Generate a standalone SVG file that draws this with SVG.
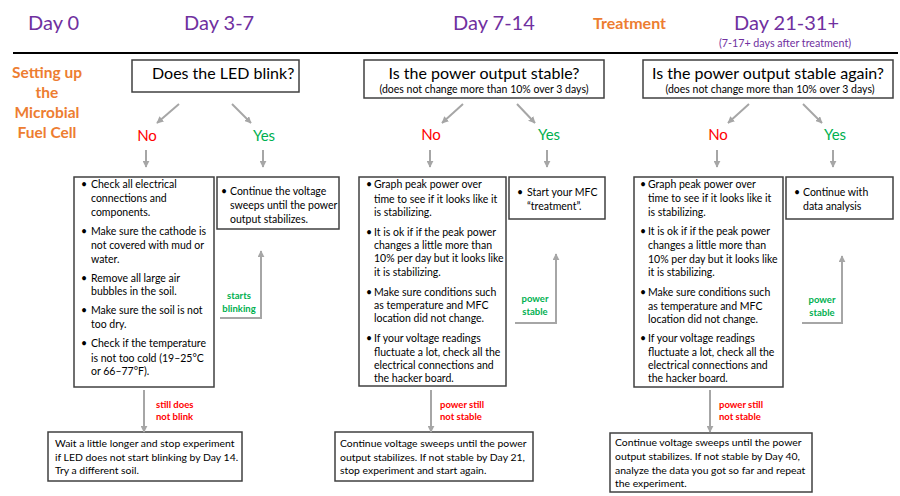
<svg xmlns="http://www.w3.org/2000/svg" width="900" height="496" viewBox="0 0 900 496">
<defs>
<marker id="ah" viewBox="0 0 10 10" markerWidth="7" markerHeight="7" markerUnits="userSpaceOnUse" refX="9" refY="5" orient="auto">
<path d="M0,0 L10,5 L0,10 Z" fill="#A6A6A6"/>
</marker>
</defs>
<style>
text{font-family:Lato,"Liberation Sans",sans-serif;}
.day{font-size:20px;fill:#7030A0;}
.sub{font-size:10.7px;fill:#7030A0;}
.org{font-weight:bold;fill:#ED7D31;}
.box{fill:#fff;stroke:#404040;stroke-width:1.5;}
.q{font-size:16px;fill:#000;}
.qs{font-size:10.5px;fill:#000;}
.b{font-size:10.5px;fill:#000;}
.w{font-size:10.4px;fill:#000;}
.no{font-size:15px;fill:#FF0000;}
.yes{font-size:15px;fill:#00B050;}
.lg{font-size:9.5px;font-weight:bold;fill:#00B050;}
.lr{font-size:9.5px;font-weight:bold;fill:#FF0000;}
.ca{fill:none;stroke:#A6A6A6;stroke-width:2;marker-end:url(#ah);}
</style>
<rect width="900" height="496" fill="#fff"/>

<g id="header">
<text class="day" x="28" y="30">Day 0</text>
<text class="day" x="184" y="30">Day 3-7</text>
<text class="day" x="453" y="30">Day 7-14</text>
<text class="org" x="593" y="29" font-size="16">Treatment</text>
<text class="day" x="734" y="30">Day 21-31+</text>
<text class="sub" x="719" y="47">(7-17+ days after treatment)</text>
<line x1="13" y1="53" x2="898" y2="53" stroke="#000" stroke-width="2"/>
</g>

<g id="setup">
<text class="org" font-size="15.5" text-anchor="middle" x="47" y="78">Setting up</text>
<text class="org" font-size="15.5" text-anchor="middle" x="47" y="98">the</text>
<text class="org" font-size="15.5" text-anchor="middle" x="47" y="118">Microbial</text>
<text class="org" font-size="15.5" text-anchor="middle" x="47" y="138">Fuel Cell</text>
</g>

<g id="q1">
<rect class="box" x="132" y="60" width="167" height="32"/>
<text class="q" font-size="15" x="152" y="79">Does the LED blink?</text>
</g>
<g id="q2">
<rect class="box" x="364" y="60" width="240" height="38"/>
<text class="q" x="484" y="79" text-anchor="middle">Is the power output stable?</text>
<text class="qs" x="484" y="93" text-anchor="middle">(does not change more than 10% over 3 days)</text>
</g>
<g id="q3">
<rect class="box" x="643" y="60" width="250" height="38"/>
<text class="q" x="768" y="79" text-anchor="middle">Is the power output stable again?</text>
<text class="qs" x="770" y="93" text-anchor="middle">(does not change more than 10% over 3 days)</text>
</g>

<g id="answers">
<text class="no" x="147" y="141" text-anchor="middle">No</text>
<text class="yes" x="264" y="141" text-anchor="middle">Yes</text>
<text class="no" x="431" y="140" text-anchor="middle">No</text>
<text class="yes" x="549" y="140" text-anchor="middle">Yes</text>
<text class="no" x="718" y="140" text-anchor="middle">No</text>
<text class="yes" x="835" y="140" text-anchor="middle">Yes</text>
</g>

<g id="no1">
<rect class="box" x="74" y="177" width="140" height="210"/>
<text class="b" x="81" y="188">•</text>
<text class="b" x="91" y="188">Check all electrical</text>
<text class="b" x="91" y="202">connections and</text>
<text class="b" x="91" y="216">components.</text>
<text class="b" x="81" y="235">•</text>
<text class="b" x="91" y="235">Make sure the cathode is</text>
<text class="b" x="91" y="249">not covered with mud or</text>
<text class="b" x="91" y="263">water.</text>
<text class="b" x="81" y="282">•</text>
<text class="b" x="91" y="282">Remove all large air</text>
<text class="b" x="91" y="295">bubbles in the soil.</text>
<text class="b" x="81" y="314">•</text>
<text class="b" x="91" y="314">Make sure the soil is not</text>
<text class="b" x="91" y="328">too dry.</text>
<text class="b" x="81" y="347">•</text>
<text class="b" x="91" y="347">Check if the temperature</text>
<text class="b" x="91" y="362">is not too cold (19–25°C</text>
<text class="b" x="91" y="375">or 66–77°F).</text>
</g>
<g id="yes1">
<rect class="box" x="217" y="177" width="122" height="52"/>
<text class="b" x="221" y="195">•</text>
<text class="b" x="230" y="195">Continue the voltage</text>
<text class="b" x="230" y="209">sweeps until the power</text>
<text class="b" x="230" y="223">output stabilizes.</text>
</g>

<g id="no2">
<rect class="box" x="359" y="177" width="147" height="209"/>
<text class="b" x="366" y="188">•</text>
<text class="b" x="374" y="188">Graph peak power over</text>
<text class="b" x="374" y="203">time to see if it looks like it</text>
<text class="b" x="374" y="216">is stabilizing.</text>
<text class="b" x="366" y="236">•</text>
<text class="b" x="374" y="236">It is ok if if the peak power</text>
<text class="b" x="374" y="249">changes a little more than</text>
<text class="b" x="374" y="262">10% per day but it looks like</text>
<text class="b" x="374" y="276">it is stabilizing.</text>
<text class="b" x="366" y="296">•</text>
<text class="b" x="374" y="296">Make sure conditions such</text>
<text class="b" x="374" y="309">as temperature and MFC</text>
<text class="b" x="374" y="322">location did not change.</text>
<text class="b" x="366" y="342">•</text>
<text class="b" x="374" y="342">If your voltage readings</text>
<text class="b" x="374" y="356">fluctuate a lot, check all the</text>
<text class="b" x="374" y="369">electrical connections and</text>
<text class="b" x="374" y="382">the hacker board.</text>
</g>
<g id="yes2">
<rect class="box" x="509" y="177" width="96" height="42"/>
<text class="b" x="517" y="196">•</text>
<text class="b" x="527" y="196">Start your MFC</text>
<text class="b" x="527" y="210">“treatment”.</text>
</g>

<g id="no3">
<rect class="box" x="634" y="177" width="149" height="210"/>
<text class="b" x="640" y="188">•</text>
<text class="b" x="648" y="188">Graph peak power over</text>
<text class="b" x="648" y="202">time to see if it looks like it</text>
<text class="b" x="648" y="216">is stabilizing.</text>
<text class="b" x="640" y="235">•</text>
<text class="b" x="648" y="235">It is ok if if the peak power</text>
<text class="b" x="648" y="249">changes a little more than</text>
<text class="b" x="648" y="263">10% per day but it looks like</text>
<text class="b" x="648" y="276">it is stabilizing.</text>
<text class="b" x="640" y="296">•</text>
<text class="b" x="648" y="296">Make sure conditions such</text>
<text class="b" x="648" y="310">as temperature and MFC</text>
<text class="b" x="648" y="323">location did not change.</text>
<text class="b" x="640" y="342">•</text>
<text class="b" x="648" y="342">If your voltage readings</text>
<text class="b" x="648" y="356">fluctuate a lot, check all the</text>
<text class="b" x="648" y="369">electrical connections and</text>
<text class="b" x="648" y="382">the hacker board.</text>
</g>
<g id="yes3">
<rect class="box" x="786" y="177" width="107" height="42"/>
<text class="b" x="794" y="196">•</text>
<text class="b" x="803" y="196">Continue with</text>
<text class="b" x="803" y="210">data analysis</text>
</g>

<g id="end1">
<rect class="box" x="48" y="432" width="194" height="49"/>
<text class="w" x="55" y="447">Wait a little longer and stop experiment</text>
<text class="w" x="55" y="461">if LED does not start blinking by Day 14.</text>
<text class="w" x="55" y="474">Try a different soil.</text>
</g>
<g id="end2">
<rect class="box" x="335" y="432" width="198" height="49"/>
<text class="w" x="340" y="447">Continue voltage sweeps until the power</text>
<text class="w" x="340" y="461">output stabilizes. If not stable by Day 21,</text>
<text class="w" x="340" y="474">stop experiment and start again.</text>
</g>
<g id="end3">
<rect class="box" x="610" y="433" width="202" height="59"/>
<text class="w" x="615" y="446">Continue voltage sweeps until the power</text>
<text class="w" x="615" y="460">output stabilizes. If not stable by Day 40,</text>
<text class="w" x="615" y="474">analyze the data you got so far and repeat</text>
<text class="w" x="615" y="487">the experiment.</text>
</g>

<g id="connectors">
<line class="ca" x1="179" y1="104" x2="157" y2="123"/>
<line class="ca" x1="232" y1="104" x2="251" y2="123"/>
<line class="ca" x1="463" y1="104" x2="442" y2="123"/>
<line class="ca" x1="517" y1="104" x2="535" y2="123"/>
<line class="ca" x1="749" y1="104" x2="728" y2="123"/>
<line class="ca" x1="803" y1="104" x2="822" y2="123"/>
<line class="ca" x1="146" y1="150" x2="146" y2="167"/>
<line class="ca" x1="263" y1="150" x2="263" y2="167"/>
<line class="ca" x1="430" y1="150" x2="430" y2="167"/>
<line class="ca" x1="547" y1="150" x2="547" y2="167"/>
<line class="ca" x1="717" y1="150" x2="717" y2="167"/>
<line class="ca" x1="833" y1="150" x2="833" y2="167"/>
<polyline class="ca" points="220,318 261,318 261,251"/>
<polyline class="ca" points="515,323 556,323 556,254"/>
<polyline class="ca" points="802,323 842,323 842,256"/>
<line class="ca" x1="144" y1="390" x2="144" y2="432"/>
<line class="ca" x1="431" y1="390" x2="431" y2="432"/>
<line class="ca" x1="710" y1="390" x2="710" y2="432"/>
</g>

<g id="labels">
<text class="lg" x="239" y="299" text-anchor="middle">starts</text>
<text class="lg" x="239" y="312" text-anchor="middle">blinking</text>
<text class="lg" x="535" y="302" text-anchor="middle">power</text>
<text class="lg" x="535" y="315" text-anchor="middle">stable</text>
<text class="lg" x="822" y="303" text-anchor="middle">power</text>
<text class="lg" x="822" y="316" text-anchor="middle">stable</text>
<text class="lr" x="156" y="408">still does</text>
<text class="lr" x="156" y="420">not blink</text>
<text class="lr" x="440" y="408">power still</text>
<text class="lr" x="440" y="420">not stable</text>
<text class="lr" x="719" y="408">power still</text>
<text class="lr" x="719" y="420">not stable</text>
</g>
</svg>
